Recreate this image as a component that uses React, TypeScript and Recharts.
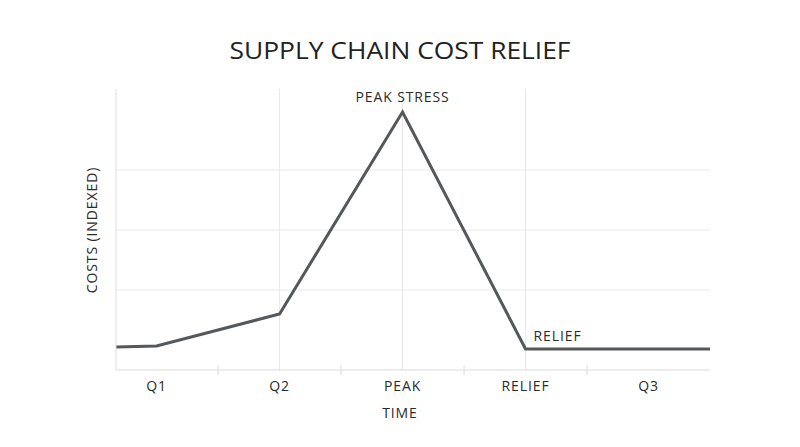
import React from 'react';
import { LineChart, Line, XAxis, YAxis, ReferenceLine, ReferenceDot } from 'recharts';

// Category labels at integer x positions
const categories = ['Q1', 'Q2', 'PEAK', 'RELIEF', 'Q3'];
const categoryPositions = [1, 2, 3, 4, 5];
const tickMarkPositions = [1.5, 2.5, 3.5, 4.5];
const verticalGridPositions = [2, 3, 4];
const horizontalGridValues = [60, 120, 180];

// Cost series (indexed)
const timeValues = [0.67, 1, 2, 3, 4, 5.5];
const costValues = [3, 4, 36, 238, 1, 1];

const data = timeValues.map((t, i) => ({ t, cost: costValues[i] }));

const FONT = "'Open Sans', 'DejaVu Sans', sans-serif";
const TEXT = '#2b2b2b';
const LINE = '#55585b';
const GRID = '#e8e8e8';
const AXIS = '#dcdcdc';
const LS = 0.9;

const allTicks = [...categoryPositions, ...tickMarkPositions].sort((a, b) => a - b);

const XTick = (props: any) => {
  const { x, y, payload } = props;
  const v = payload.value;
  const idx = categoryPositions.indexOf(v);
  if (idx >= 0) {
    return (
      <text x={x} y={y + 21} textAnchor="middle" fontFamily={FONT} fontSize={14} letterSpacing={LS} fill={TEXT}>
        {categories[idx]}
      </text>
    );
  }
  return <line x1={x} x2={x} y1={y - 5} y2={y + 5} stroke={AXIS} strokeWidth={1} />;
};

export default function App() {
  return (
    <div style={{ position: 'absolute', left: 0, top: 0, width: 800, height: 447, background: '#fff' }}>
      <LineChart
        width={800}
        height={447}
        data={data}
        margin={{ top: 89, right: 90, bottom: 47, left: 86 }}
      >
        {horizontalGridValues.map((v) => (
          <ReferenceLine key={'h' + v} y={v} stroke={GRID} strokeWidth={1} />
        ))}
        {verticalGridPositions.map((v) => (
          <ReferenceLine key={'v' + v} x={v} stroke={GRID} strokeWidth={1} />
        ))}
        <XAxis
          dataKey="t"
          type="number"
          domain={[0.67, 5.5]}
          ticks={allTicks}
          interval={0}
          height={30}
          tickLine={false}
          tickSize={0}
          tickMargin={0}
          axisLine={{ stroke: AXIS }}
          tick={<XTick />}
          allowDataOverflow
        />
        <YAxis
          type="number"
          domain={[-20, 261]}
          width={30}
          tick={false}
          tickLine={false}
          axisLine={{ stroke: AXIS }}
          ticks={horizontalGridValues}
          allowDataOverflow
        />
        <Line
          type="linear"
          dataKey="cost"
          stroke={LINE}
          strokeWidth={3}
          dot={false}
          activeDot={false}
          isAnimationActive={false}
          strokeLinejoin="miter"
        />
        <ReferenceDot
          x={3}
          y={238}
          r={0}
          stroke="none"
          fill="none"
          label={(p: any) => (
            <text x={p.viewBox.x} y={p.viewBox.y - 10} textAnchor="middle" fontFamily={FONT} fontSize={14} letterSpacing={LS} fill={TEXT}>
              PEAK STRESS
            </text>
          )}
        />
        <ReferenceDot
          x={4}
          y={1}
          r={0}
          stroke="none"
          fill="none"
          label={(p: any) => (
            <text x={p.viewBox.x + 8} y={p.viewBox.y - 8} textAnchor="start" fontFamily={FONT} fontSize={14} letterSpacing={LS} fill={TEXT}>
              RELIEF
            </text>
          )}
        />
        <text x={400} y={59} textAnchor="middle" fontFamily={FONT} fontSize={23} fill="#222" textLength={341} lengthAdjust="spacingAndGlyphs">
          SUPPLY CHAIN COST RELIEF
        </text>
        <text x={400} y={418} textAnchor="middle" fontFamily={FONT} fontSize={14} letterSpacing={LS} fill={TEXT}>
          TIME
        </text>
        <text
          x={97}
          y={230}
          textAnchor="middle"
          fontFamily={FONT}
          fontSize={14}
          letterSpacing={LS}
          fill={TEXT}
          transform="rotate(-90 97 230)"
        >
          COSTS (INDEXED)
        </text>
      </LineChart>
    </div>
  );
}
